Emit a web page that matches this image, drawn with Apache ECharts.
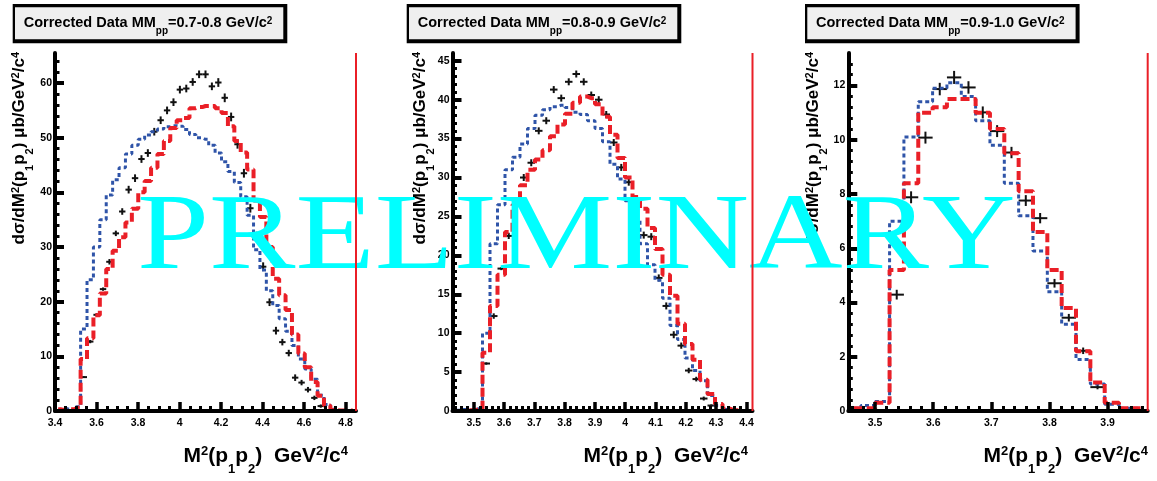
<!DOCTYPE html>
<html><head><meta charset="utf-8">
<script src="https://cdn.jsdelivr.net/npm/echarts@6/dist/echarts.min.js"></script>
<style>html,body{margin:0;padding:0;background:#fff}#c{width:1157px;height:481px}</style>
</head><body><div id="c"></div>
<script>
// ---------------- data ----------------
// Panel 1 : MMpp = 0.7-0.8 GeV/c^2
const p1Bins = [3.4154,3.4463,3.4771,3.5080,3.5388,3.5697,3.6005,3.6314,3.6622,3.6931,3.7239,3.7548,3.7856,3.8165,3.8473,3.8782,3.9090,3.9399,3.9707,4.0016,4.0324,4.0633,4.0941,4.1250,4.1558,4.1867,4.2176,4.2484,4.2793,4.3101,4.3410,4.3718,4.4027,4.4335,4.4644,4.4952,4.5261,4.5569,4.5878,4.6186,4.6495,4.6803,4.7112,4.7420,4.7729,4.8037,4.8346];
const p1Data = [null,null,null,null,6.2,12.7,17.6,22.3,27.3,32.5,36.5,40.5,42.6,46.1,47.2,51.1,53.2,55.0,56.5,58.8,59.0,60.2,61.6,61.6,59.4,60.1,57.3,53.8,48.8,43.5,37.1,32.0,26.4,19.9,14.7,12.6,10.6,6.1,5.2,3.9,2.4,0.9,null,null,null,null,null];
const p1Err  = [null,null,null,null,0.15,0.3,0.3,0.3,0.5,0.5,0.6,0.7,0.7,0.7,0.7,0.7,0.7,0.7,0.7,0.7,0.7,0.7,0.7,0.7,0.7,0.8,0.8,0.8,0.8,0.8,0.8,0.8,0.8,0.7,0.7,0.6,0.6,0.6,0.5,0.5,0.4,0.3,null,null,null,null,null];
const p1Red  = [0.3,0.2,0.3,0.6,9.5,13.3,17.5,21.5,26.0,29.3,31.8,34.5,37.0,40.0,42.1,44.5,47.0,49.4,51.8,53.2,53.6,55.4,55.6,55.8,55.8,55.4,54.5,52.1,49.4,47.3,44.2,38.5,35.5,30.0,24.2,21.2,18.5,14.0,10.5,8.0,5.3,2.8,1.0,0.2,0.1,0.1,0.1];
const p1Blue = [0.2,0.4,0.2,0.8,15,24,30,35,39.5,42.3,44.5,47,48.6,49.7,50.5,51.1,51.6,52,52.2,52.1,51.5,50.6,50,49.7,48.6,47.2,45.6,43.8,41.8,39.2,35.8,29.5,25.8,22,19.3,16.9,14.6,12,9.5,7.7,5.8,2.9,1.2,0.3,0.1,0.1,0.1];
const p1XTicks = [3.4,3.6,3.8,4.0,4.2,4.4,4.6,4.8];
const p1YTicks = [0,10,20,30,40,50,60];

// Panel 2 : MMpp = 0.8-0.9 GeV/c^2
const p2Bins = [3.4424,3.4671,3.4919,3.5166,3.5414,3.5661,3.5909,3.6156,3.6404,3.6651,3.6899,3.7146,3.7394,3.7641,3.7889,3.8136,3.8384,3.8631,3.8879,3.9126,3.9374,3.9621,3.9869,4.0116,4.0364,4.0611,4.0859,4.1106,4.1354,4.1601,4.1849,4.2096,4.2344,4.2591,4.2839,4.3086,4.3334,4.3581,4.3829,4.4076];
const p2Data = [null,null,null,null,6.1,12.2,18.3,22.5,26.5,30.0,31.9,36.0,37.3,41.3,40.2,42.3,43.3,42.3,40.6,40.0,38.1,34.5,31.3,29.4,27.0,22.6,22.4,17.1,13.5,9.8,8.4,5.2,4.1,1.6,0.7,null,null,null,null,null];
const p2Err  = [null,null,null,null,0.15,0.35,0.2,0.4,0.45,0.45,0.45,0.45,0.45,0.45,0.45,0.45,0.45,0.45,0.45,0.45,0.45,0.45,0.45,0.45,0.45,0.45,0.45,0.45,0.45,0.45,0.4,0.35,0.3,0.25,0.15,null,null,null,null,null];
const p2Red  = [0,0,0.1,0.2,7.5,13.5,17.5,23,26.5,29,31,32.3,33.5,35.3,36.8,38.2,39.6,40.4,40.2,39.4,37.8,35.5,32.5,30,27.5,26,23.5,20.8,17.5,14.8,11.2,8.6,6.6,4.0,2.2,0.9,0.3,0.1,0,0];
const p2Blue = [0.1,0.2,0.1,0.3,10,21.5,26.5,31,32.6,34.3,36.3,38,38.7,39.1,39.3,39,38.4,38.1,37.3,36.3,34.6,31.7,29.8,27,24.5,21.5,18.8,16.8,14.5,11,9.2,6.8,5.2,3.9,2,0.7,0.2,0.1,0,0];
const p2XTicks = [3.5,3.6,3.7,3.8,3.9,4.0,4.1,4.2,4.3,4.4];
const p2YTicks = [0,5,10,15,20,25,30,35,40,45];

// Panel 3 : MMpp = 0.9-1.0 GeV/c^2
const p3Bins = [3.4633,3.4880,3.5127,3.5373,3.5620,3.5867,3.6113,3.6360,3.6607,3.6853,3.7100,3.7347,3.7593,3.7840,3.8087,3.8333,3.8580,3.8827,3.9073,3.9320,3.9567];
const p3Data = [null,null,null,4.29,7.88,10.08,11.87,12.30,11.93,11.01,10.32,9.53,7.76,7.11,4.71,3.44,2.22,0.88,null,null,null];
const p3Err  = [null,null,null,0.18,0.22,0.22,0.23,0.24,0.23,0.22,0.22,0.21,0.2,0.19,0.16,0.14,0.12,0.08,null,null,null];
const p3Red  = [0.1,0.1,0.3,5.2,8.4,11.0,11.2,11.5,11.5,11.0,10.4,9.5,8.1,6.6,5.2,3.8,2.2,1.05,0.3,0.1,0.1];
const p3Blue = [0.1,0.2,0.35,7.0,10.1,11.4,11.9,12.1,11.6,10.7,9.8,8.4,7.2,5.9,4.4,3.2,1.9,1.0,0.25,0.1,0.1];
const p3XTicks = [3.5,3.6,3.7,3.8,3.9];
const p3YTicks = [0,2,4,6,8,10,12];

const titleRanges = ['0.7-0.8','0.8-0.9','0.9-1.0'];
// --------------------------------------

const FONT = 'Liberation Sans';
const RED = '#ea1f27', BLUE = '#2f54a8', INK = '#000';

const panels = [
  {left:55,    width:301,   xmin:3.4,   xmax:4.85,  ymax:65.5, bins:p1Bins, data:p1Data, err:p1Err, red:p1Red, blue:p1Blue, bw:0.030851,
   xMaj:p1XTicks, yMaj:p1YTicks, xMinor:[3.45,4.80,0.05], yMinor:[2,64,2], boxL:12.7, ytX:3,   xtR:348},
  {left:452.5, width:300,   xmin:3.43,  xmax:4.42,  ymax:46.0, bins:p2Bins, data:p2Data, err:p2Err, red:p2Red, blue:p2Blue, bw:0.02475,
   xMaj:p2XTicks, yMaj:p2YTicks, xMinor:[3.44,4.40,0.02], yMinor:[1,45,1],  boxL:406.7, ytX:404, xtR:748},
  {left:848.3, width:299.4, xmin:3.454, xmax:3.969, ymax:13.2, bins:p3Bins, data:p3Data, err:p3Err, red:p3Red, blue:p3Blue, bw:0.024667,
   xMaj:p3XTicks, yMaj:p3YTicks, xMinor:[3.46,3.96,0.02], yMinor:[0.4,12.8,0.4], boxL:805, ytX:797, xtR:1148}
];

function minorTicks(lo, hi, step, majors) {
  const out = [];
  const n = Math.round((hi - lo) / step);
  for (let i = 0; i <= n; i++) {
    const v = +(lo + i * step).toFixed(4);
    if (!majors.some(m => Math.abs(m - v) < 1e-6)) out.push(v);
  }
  return out;
}

const grids = [], xAxes = [], yAxes = [], series = [], graphics = [];
const labelStyle = {color:INK, fontFamily:FONT, fontWeight:'bold', fontSize:10.5};

panels.forEach((P, i) => {
  grids.push({left:P.left, top:53, width:P.width, height:358, containLabel:false, outerBoundsMode:'none'});
  const xm = minorTicks(P.xMinor[0], P.xMinor[1], P.xMinor[2], P.xMaj);
  const ym = minorTicks(P.yMinor[0], P.yMinor[1], P.yMinor[2], P.yMaj);
  xAxes.push({gridIndex:i, type:'value', min:P.xmin, max:P.xmax, position:'bottom', z:3,
    axisLine:{show:true, onZero:false, lineStyle:{color:INK, width:4}},
    axisTick:{show:true, inside:true, length:9, lineStyle:{color:INK, width:3.5}, customValues:P.xMaj},
    axisLabel:Object.assign({show:true, margin:7, customValues:P.xMaj, showMinLabel:true, showMaxLabel:true, hideOverlap:false}, labelStyle),
    splitLine:{show:false}});
  xAxes.push({gridIndex:i, type:'value', min:P.xmin, max:P.xmax, position:'bottom', z:3,
    axisLine:{show:false},
    axisTick:{show:true, inside:true, length:5, lineStyle:{color:INK, width:3}, customValues:xm},
    axisLabel:{show:false}, splitLine:{show:false}});
  yAxes.push({gridIndex:i, type:'value', min:0, max:P.ymax, position:'left',
    axisLine:{show:true, onZero:false, lineStyle:{color:INK, width:4}},
    axisTick:{show:true, inside:true, length:9, lineStyle:{color:INK, width:4}, customValues:P.yMaj},
    axisLabel:Object.assign({show:true, margin:3, customValues:P.yMaj, showMinLabel:true, showMaxLabel:true, hideOverlap:false}, labelStyle),
    splitLine:{show:false}});
  yAxes.push({gridIndex:i, type:'value', min:0, max:P.ymax, position:'left',
    axisLine:{show:false},
    axisTick:{show:true, inside:true, length:4.5, lineStyle:{color:INK, width:3}, customValues:ym},
    axisLabel:{show:false}, splitLine:{show:false}});

  // simulation histograms (blue dotted, red dashed)
  series.push({type:'line', xAxisIndex:2*i, yAxisIndex:2*i, step:'middle', symbol:'none', showSymbol:false, silent:true, z:2,
    data:P.bins.map((x,k)=>[x, P.blue[k]]),
    lineStyle:{color:BLUE, width:3, type:[4,3], cap:'butt'}});
  series.push({type:'line', xAxisIndex:2*i, yAxisIndex:2*i, step:'middle', symbol:'none', showSymbol:false, silent:true, z:2,
    data:P.bins.map((x,k)=>[x, P.red[k]]),
    lineStyle:{color:RED, width:4, type:[9,4], cap:'butt'}});
  // red frame line at the upper end of the range
  series.push({type:'line', xAxisIndex:2*i, yAxisIndex:2*i, symbol:'none', showSymbol:false, silent:true, z:5, clip:false,
    data:[[P.xmax, 0], [P.xmax, P.ymax]],
    lineStyle:{color:RED, width:2, type:'solid'}});
  // corrected data points with error crosses
  const pts = [];
  P.bins.forEach((x,k)=>{ if (P.data[k] != null) pts.push([x, P.data[k], P.err[k]]); });
  series.push({type:'custom', xAxisIndex:2*i, yAxisIndex:2*i, z:2, silent:true, clip:false,
    data:pts, encode:{x:0, y:1},
    renderItem:(params, api) => {
      const x = api.value(0), y = api.value(1), e = api.value(2);
      const c = api.coord([x, y]);
      const hw = api.size([P.bw, 0])[0] / 2;
      const yt = api.coord([x, y + e])[1], yb = api.coord([x, y - e])[1];
      const st = {stroke:'#111', lineWidth:2};
      return {type:'group', children:[
        {type:'line', shape:{x1:c[0]-hw, y1:c[1], x2:c[0]+hw, y2:c[1]}, style:st},
        {type:'line', shape:{x1:c[0], y1:yt, x2:c[0], y2:yb}, style:st}
      ]};
    }});

  // title box
  graphics.push({type:'rect', z:0, shape:{x:P.boxL, y:4, width:274.6, height:39.3}, style:{fill:'#000'}});
  graphics.push({type:'rect', z:0, shape:{x:P.boxL+2.3, y:7.3, width:268.3, height:32}, style:{fill:'#efefef'}});
  graphics.push({type:'text', z:0, x:P.boxL+11, y:8, style:{
    text:'{m|Corrected Data MM}{sub|pp}{m|=' + titleRanges[i] + ' GeV/c}{sup|2}',
    align:'left', verticalAlign:'top', fill:INK,
    rich:{
      m:{fontSize:14.5, fontWeight:'bold', fontFamily:FONT, lineHeight:30, fill:INK},
      sub:{fontSize:10, fontWeight:'bold', fontFamily:FONT, lineHeight:10, padding:[0,0,2,0], verticalAlign:'bottom', fill:INK},
      sup:{fontSize:10, fontWeight:'bold', fontFamily:FONT, lineHeight:10, padding:[8,0,0,0], verticalAlign:'top', fill:INK}
    }}});
  // y-axis title
  graphics.push({type:'text', z:0, x:P.ytX, y:52, rotation:Math.PI/2, style:{
    text:'{m|dσ/dM}{sup|2}{m|(p}{sub|1}{m|p}{sub|2}{m|) μb/GeV}{sup|2}{m|/c}{sup|4}',
    align:'right', verticalAlign:'top', fill:INK,
    rich:{
      m:{fontSize:17, fontWeight:'bold', fontFamily:FONT, lineHeight:32, fill:INK},
      sub:{fontSize:11, fontWeight:'bold', fontFamily:FONT, lineHeight:11, verticalAlign:'bottom', fill:INK},
      sup:{fontSize:11, fontWeight:'bold', fontFamily:FONT, lineHeight:11, padding:[7,0,0,0], verticalAlign:'top', fill:INK}
    }}});
  // x-axis title
  graphics.push({type:'text', z:0, x:P.xtR, y:436, style:{
    text:'{m|M}{sup|2}{m|(p}{sub|1}{m|p}{sub|2}{m|)  GeV}{sup|2}{m|/c}{sup|4}',
    align:'right', verticalAlign:'top', fill:INK,
    rich:{
      m:{fontSize:21, fontWeight:'bold', fontFamily:FONT, lineHeight:40, fill:INK},
      sub:{fontSize:13, fontWeight:'bold', fontFamily:FONT, lineHeight:13, verticalAlign:'bottom', fill:INK},
      sup:{fontSize:13, fontWeight:'bold', fontFamily:FONT, lineHeight:13, padding:[9,0,0,0], verticalAlign:'top', fill:INK}
    }}});
});

// watermark
graphics.push({type:'text', z:4, x:137, y:239.6, scaleX:1.2, silent:true, style:{
  text:'PRELIMINARY', font:"108px 'Liberation Serif', 'Times New Roman', serif", fill:'#00ffff',
  align:'left', verticalAlign:'middle'}});

const chart = echarts.init(document.getElementById('c'), null, {renderer:'canvas', width:1157, height:481});
chart.setOption({
  backgroundColor:'#ffffff',
  animation:false,
  grid:grids, xAxis:xAxes, yAxis:yAxes, series:series,
  graphic:{elements:graphics}
});
</script></body></html>
